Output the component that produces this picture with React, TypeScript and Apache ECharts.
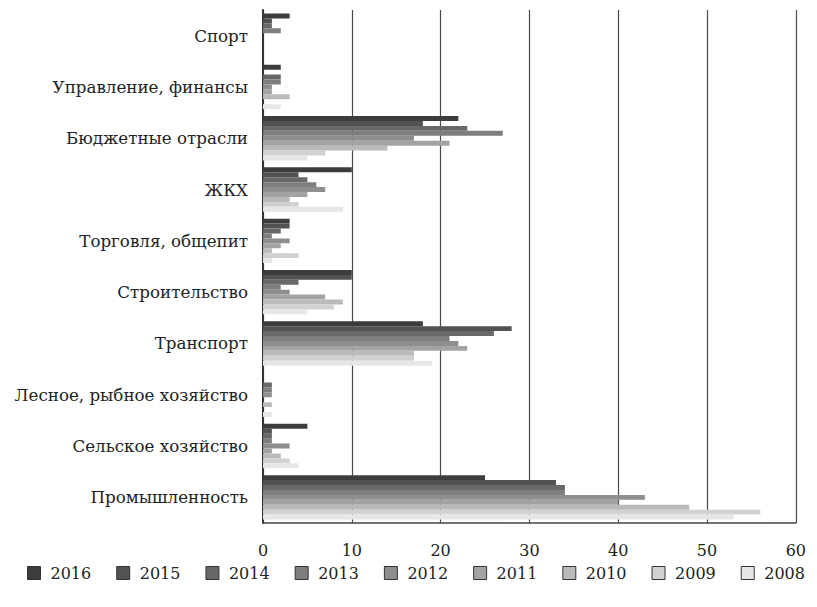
import React, { useEffect, useRef } from "react";
import * as echarts from "echarts";

const categories = [
  "Спорт",
  "Управление, финансы",
  "Бюджетные отрасли",
  "ЖКХ",
  "Торговля, общепит",
  "Строительство",
  "Транспорт",
  "Лесное, рыбное хозяйство",
  "Сельское хозяйство",
  "Промышленность",
];

const years = ["2016", "2015", "2014", "2013", "2012", "2011", "2010", "2009", "2008"];

// values per year, in category order (top to bottom)
const v2016 = [3, 2, 22, 10, 3, 10, 18, 0, 5, 25];
const v2015 = [1, 0, 18, 4, 3, 10, 28, 0, 1, 33];
const v2014 = [1, 2, 23, 5, 2, 4, 26, 1, 1, 34];
const v2013 = [2, 2, 27, 6, 1, 2, 21, 1, 1, 34];
const v2012 = [0, 1, 17, 7, 3, 3, 22, 1, 3, 43];
const v2011 = [0, 1, 21, 5, 2, 7, 23, 0, 1, 40];
const v2010 = [0, 3, 14, 3, 1, 9, 17, 1, 2, 48];
const v2009 = [0, 0, 7, 4, 4, 8, 17, 0, 3, 56];
const v2008 = [0, 2, 5, 9, 1, 5, 19, 1, 4, 53];

const seriesValues = [v2016, v2015, v2014, v2013, v2012, v2011, v2010, v2009, v2008];
const colors = ["#3c3c3c", "#525252", "#686868", "#7e7e7e", "#8e8e8e", "#a3a3a3", "#bababa", "#d1d1d1", "#e6e6e6"];

const xTicks = [0, 10, 20, 30, 40, 50, 60];

const FONT = "DejaVu Serif";

export default function App() {
  const ref = useRef<HTMLDivElement>(null);
  useEffect(() => {
    if (!ref.current) return;
    const chart = echarts.init(ref.current, null, { renderer: "svg" });
    chart.setOption({
      animation: false,
      backgroundColor: "#ffffff",
      textStyle: { fontFamily: FONT },
      grid: { left: 255, right: 4, top: 2, height: 513, containLabel: false },
      legend: {
        data: years,
        top: 557,
        left: 19,
        width: 795,
        padding: 0,
        itemWidth: 13,
        itemHeight: 13,
        itemGap: 25,
        icon: "rect",
        itemStyle: { borderColor: "#333", borderWidth: 1 },
        textStyle: { fontFamily: FONT, fontSize: 16, color: "#222", padding: [0, 0, 0, 5] },
      },
      xAxis: {
        type: "value",
        min: xTicks[0],
        max: xTicks[xTicks.length - 1],
        interval: 10,
        axisLine: { show: true, lineStyle: { color: "#444", width: 1.5 } },
        axisTick: { show: false },
        splitLine: { show: true, lineStyle: { color: "#4a4a4a", width: 1.2 } },
        axisLabel: { fontFamily: FONT, fontSize: 16, color: "#222", margin: 19 },
      },
      yAxis: {
        type: "category",
        data: categories,
        inverse: true,
        axisLine: { show: true, lineStyle: { color: "#333", width: 2 } },
        axisTick: { show: false },
        axisLabel: { fontFamily: FONT, fontSize: 16.7, color: "#222", margin: 15 },
      },
      series: years.map((y, i) => ({
        name: y,
        type: "bar",
        data: seriesValues[i],
        barGap: "0%",
        barCategoryGap: "13.5%",
        itemStyle: { color: colors[i] },
      })),
    });
    return () => chart.dispose();
  }, []);
  return <div ref={ref} style={{ width: 801, height: 591 }} />;
}
